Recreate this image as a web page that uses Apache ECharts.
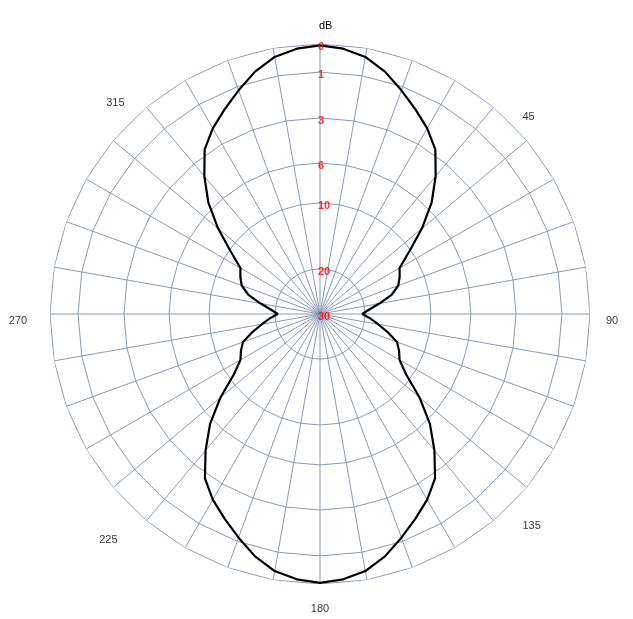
<!DOCTYPE html>
<html>
<head>
<meta charset="utf-8">
<script src="https://cdn.jsdelivr.net/npm/echarts@6/dist/echarts.min.js"></script>
<style>
html,body{margin:0;padding:0;background:#fff;}
#chart{width:633px;height:619px;}
</style>
</head>
<body>
<div id="chart"></div>
<script>
// Bearings (degrees, clockwise from top)
var angles = [0,5,10,15,20,25,30,35,40,45,50,55,60,65,70,75,80,85,
  90,95,100,105,110,115,120,125,130,135,140,145,150,155,160,165,170,175,
  180,185,190,195,200,205,210,215,220,225,230,235,240,245,250,255,260,265,
  270,275,280,285,290,295,300,305,310,315,320,325,330,335,340,345,350,355,360];
// Relative level in dB (attenuation below maximum)
var levelDb = [0.05,0.13,0.32,0.68,1.17,1.70,2.20,2.78,4.07,5.53,7.8,10.3,12.9,13.5,14.2,15.6,17.7,19.4,
  20.6,19.2,17.9,16.2,14.4,13.6,12.9,10.9,8.1,5.7,4.2,2.8,2.2,1.7,1.17,0.68,0.32,0.13,
  0.04,0.13,0.32,0.68,1.17,1.70,2.20,2.8,4.2,5.7,8.1,10.9,12.9,13.6,14.4,16.2,17.9,19.2,
  20.6,19.4,17.7,15.6,14.2,13.5,12.9,10.3,7.8,5.53,4.07,2.78,2.20,1.70,1.17,0.68,0.32,0.13,0.05];
// Radial ring ticks (dB) and the non-linear radial scale (fraction of full radius)
var ringDb = [0,1,3,6,10,20,30];
var ringFrac = [1,0.896,0.726,0.559,0.411,0.167,0];
// Angle grid ticks
var spokeAngles = [0,10,20,30,40,50,60,70,80,90,100,110,120,130,140,150,160,170,
  180,190,200,210,220,230,240,250,260,270,280,290,300,310,320,330,340,350,360];
var angleLabels = [45,90,135,180,225,270,315];

var RMAX = 100;
function dbToR(db){
  for (var i=0;i<ringDb.length-1;i++){
    if (db>=ringDb[i] && db<=ringDb[i+1]){
      var t=(db-ringDb[i])/(ringDb[i+1]-ringDb[i]);
      return RMAX*(ringFrac[i]+t*(ringFrac[i+1]-ringFrac[i]));
    }
  }
  return 0;
}
// label placement tweaks (style only)
var angleLabelOffset = {45:[0,12],90:[-3,7],135:[3,3],180:[0,0],225:[-3,17],270:[-7,7],315:[4,-2]};

var gridColor = '#8a9bb2';
var series = [];
ringDb.forEach(function(d){
  if (d===30) return;
  series.push({
    type:'line', coordinateSystem:'polar', silent:true, symbol:'none', z:1,
    lineStyle:{color:gridColor,width:1}, animation:false,
    data: spokeAngles.map(function(a){return [dbToR(d), a];})
  });
});
series.push({
  type:'line', coordinateSystem:'polar', symbol:'none', z:5, animation:false,
  lineStyle:{color:'#000',width:2.2},
  data: angles.map(function(a,i){return [dbToR(levelDb[i]), a];})
});
series.push({
  type:'scatter', coordinateSystem:'polar', symbolSize:0, z:6, animation:false, silent:true,
  data: ringDb.map(function(d){return [dbToR(d), 0, d];}),
  label:{show:true, position:'inside', align:'left', verticalAlign:'middle', offset:[-2,3],
    formatter:function(p){return String(p.value[2]);},
    color:'#ff0000', fontWeight:'bold', fontSize:11, fontFamily:'Liberation Sans'}
});
series.push({
  type:'scatter', coordinateSystem:'polar', symbolSize:0, z:6, animation:false, silent:true, clip:false,
  data: angleLabels.map(function(a){
    return {value:[RMAX*295/270, a],
      label:{offset: angleLabelOffset[a]}};
  }),
  label:{show:true, position:'inside', align:'center', verticalAlign:'middle',
    formatter:function(p){return String(p.value[1]);},
    color:'#000', fontSize:11, fontFamily:'Liberation Sans'}
});

var chart = echarts.init(document.getElementById('chart'), null, {renderer:'canvas'});
chart.setOption({
  backgroundColor:'#fff',
  animation:false,
  polar:{center:[320,314], radius:270},
  angleAxis:{
    type:'value', min:0, max:360, interval:10, startAngle:90, clockwise:true,
    axisLine:{show:false}, axisTick:{show:false},
    splitLine:{show:true, lineStyle:{color:gridColor,width:1}},
    axisLabel:{show:false}
  },
  radiusAxis:{
    type:'value', min:0, max:RMAX,
    axisLine:{show:false}, axisTick:{show:false}, axisLabel:{show:false}, splitLine:{show:false}
  },
  graphic:[{type:'text', left:319, top:20, style:{text:'dB', fontSize:11, fontFamily:'Liberation Sans', fill:'#000'}}],
  series: series
});
</script>
</body>
</html>
